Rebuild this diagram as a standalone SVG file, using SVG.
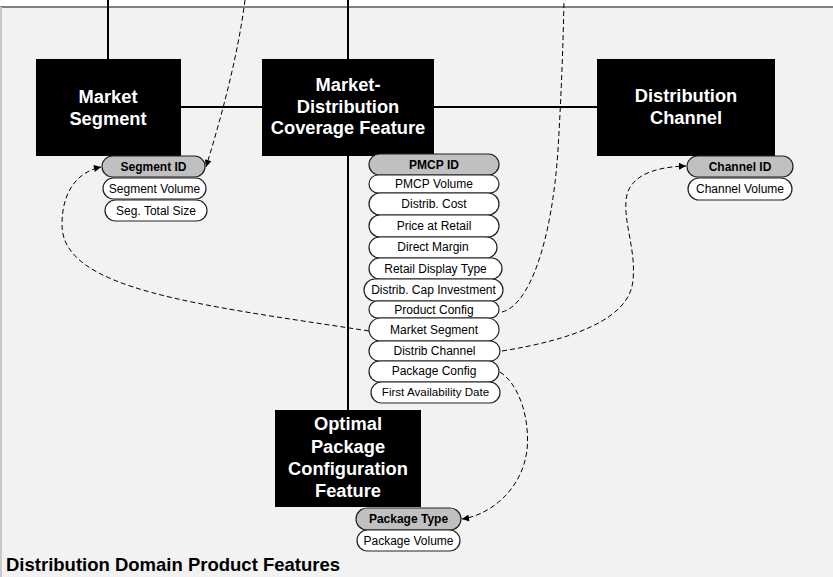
<svg xmlns="http://www.w3.org/2000/svg" width="833" height="577" viewBox="0 0 833 577">
<defs>
<style>
.box{fill:#000}
.bt{font-family:"Liberation Sans",Arial,sans-serif;font-weight:bold;font-size:18.3px;fill:#fff;text-anchor:middle}
.pill{fill:#fff;stroke:#222;stroke-width:1.2}
.pid{fill:#c0c0c0;stroke:#222;stroke-width:1.2}
.pt{font-family:"Liberation Sans",Arial,sans-serif;font-size:12px;fill:#000;text-anchor:middle}
.ptb{font-family:"Liberation Sans",Arial,sans-serif;font-size:12px;font-weight:bold;fill:#000;text-anchor:middle}
.solid{stroke:#000;stroke-width:2;fill:none}
.dash{stroke:#000;stroke-width:1;fill:none;stroke-dasharray:5,3}
</style>
<marker id="ah" viewBox="0 0 10 10" refX="10" refY="5" markerWidth="9" markerHeight="7" markerUnits="userSpaceOnUse" orient="auto">
<path d="M0,0 L10,5 L0,10 z" fill="#000"/>
</marker>
</defs>
<rect x="0" y="0" width="833" height="577" fill="#fff"/>
<rect x="0" y="7" width="833" height="570" fill="#f2f2f2"/>
<line x1="0" y1="7" x2="833" y2="7" stroke="#808080" stroke-width="2"/>
<line x1="1" y1="7" x2="1" y2="577" stroke="#c8c8c8" stroke-width="2"/>

<g id="connectors">
<line class="solid" x1="108" y1="0" x2="108" y2="59"/>
<line class="solid" x1="348" y1="0" x2="348" y2="410"/>
<line class="solid" x1="181" y1="107" x2="262" y2="107"/>
<line class="solid" x1="434" y1="107" x2="597" y2="107"/>
<path class="dash" d="M245 0 C238 55,222 115,206 167" marker-end="url(#ah)"/>
<path class="dash" d="M369 331 C200 305,62 290,62 225 C62 190,78 172,101 167" marker-end="url(#ah)"/>
<path class="dash" d="M502 312 C530 305,552 240,558 150 C561 100,563 50,564 0"/>
<path class="dash" d="M502 351 C570 340,630 320,633 280 C636 250,624 225,626 200 C628 178,650 167,686 166" marker-end="url(#ah)"/>
<path class="dash" d="M500 372 C520 385,530 420,527 450 C522 490,490 515,462 519" marker-end="url(#ah)"/>
</g>

<g id="market-segment">
<rect class="box" x="36" y="59" width="145" height="97"/>
<text class="bt" x="108" y="103">Market</text>
<text class="bt" x="108" y="125">Segment</text>
<rect class="pid" x="102" y="156" width="103" height="21" rx="10.5"/>
<text class="ptb" x="153.5" y="171">Segment ID</text>
<rect class="pill" x="103" y="178" width="103" height="21" rx="10.5"/>
<text class="pt" x="154.5" y="193">Segment Volume</text>
<rect class="pill" x="105" y="200" width="102" height="21" rx="10.5"/>
<text class="pt" x="156" y="215">Seg. Total Size</text>
</g>

<g id="market-distribution">
<rect class="box" x="262" y="59" width="172" height="97"/>
<text class="bt" x="348" y="91">Market-</text>
<text class="bt" x="348" y="113">Distribution</text>
<text class="bt" x="348" y="134">Coverage Feature</text>
<rect class="pid" x="369" y="154" width="130" height="21" rx="10.5"/>
<text class="ptb" x="434" y="169">PMCP ID</text>
<rect class="pill" x="369" y="175" width="130" height="18" rx="9"/>
<text class="pt" x="434" y="188">PMCP Volume</text>
<rect class="pill" x="369" y="193" width="130" height="22" rx="11"/>
<text class="pt" x="434" y="208">Distrib. Cost</text>
<rect class="pill" x="369" y="215" width="130" height="22" rx="11"/>
<text class="pt" x="434" y="230">Price at Retail</text>
<rect class="pill" x="369" y="237" width="128" height="21" rx="10.5"/>
<text class="pt" x="433" y="251">Direct Margin</text>
<rect class="pill" x="369" y="258" width="133" height="21" rx="10.5"/>
<text class="pt" x="435.5" y="273">Retail Display Type</text>
<rect class="pill" x="364" y="279" width="139" height="22" rx="11"/>
<text class="pt" x="433.5" y="294">Distrib. Cap Investment</text>
<rect class="pill" x="369" y="301" width="130" height="17" rx="8.5"/>
<text class="pt" x="434" y="314">Product Config</text>
<rect class="pill" x="369" y="318" width="130" height="23" rx="11.5"/>
<text class="pt" x="434" y="334">Market Segment</text>
<rect class="pill" x="369" y="341" width="131" height="20" rx="10"/>
<text class="pt" x="434.5" y="355">Distrib Channel</text>
<rect class="pill" x="369" y="361" width="130" height="21" rx="10.5"/>
<text class="pt" x="434" y="375">Package Config</text>
<rect class="pill" x="371" y="382" width="129" height="21" rx="10.5"/>
<text class="pt" x="435.5" y="396" style="font-size:11.6px">First Availability Date</text>
</g>

<g id="distribution-channel">
<rect class="box" x="597" y="59" width="178" height="97"/>
<text class="bt" x="686" y="102">Distribution</text>
<text class="bt" x="686" y="124">Channel</text>
<rect class="pid" x="687" y="156" width="106" height="21" rx="10.5"/>
<text class="ptb" x="740" y="171">Channel ID</text>
<rect class="pill" x="688" y="178" width="104" height="22" rx="11"/>
<text class="pt" x="740" y="193">Channel Volume</text>
</g>

<g id="optimal-package">
<rect class="box" x="275" y="410" width="146" height="97"/>
<text class="bt" x="348" y="430">Optimal</text>
<text class="bt" x="348" y="453">Package</text>
<text class="bt" x="348" y="475">Configuration</text>
<text class="bt" x="348" y="497">Feature</text>
<rect class="pid" x="356" y="508" width="105" height="22" rx="11"/>
<text class="ptb" x="408.5" y="523">Package Type</text>
<rect class="pill" x="357" y="530" width="103" height="21" rx="10.5"/>
<text class="pt" x="408.5" y="545">Package Volume</text>
</g>

<g id="title">
<text x="6" y="571" style="font-family:'Liberation Sans',Arial,sans-serif;font-weight:bold;font-size:18.5px;fill:#000">Distribution Domain Product Features</text>
</g>
</svg>
